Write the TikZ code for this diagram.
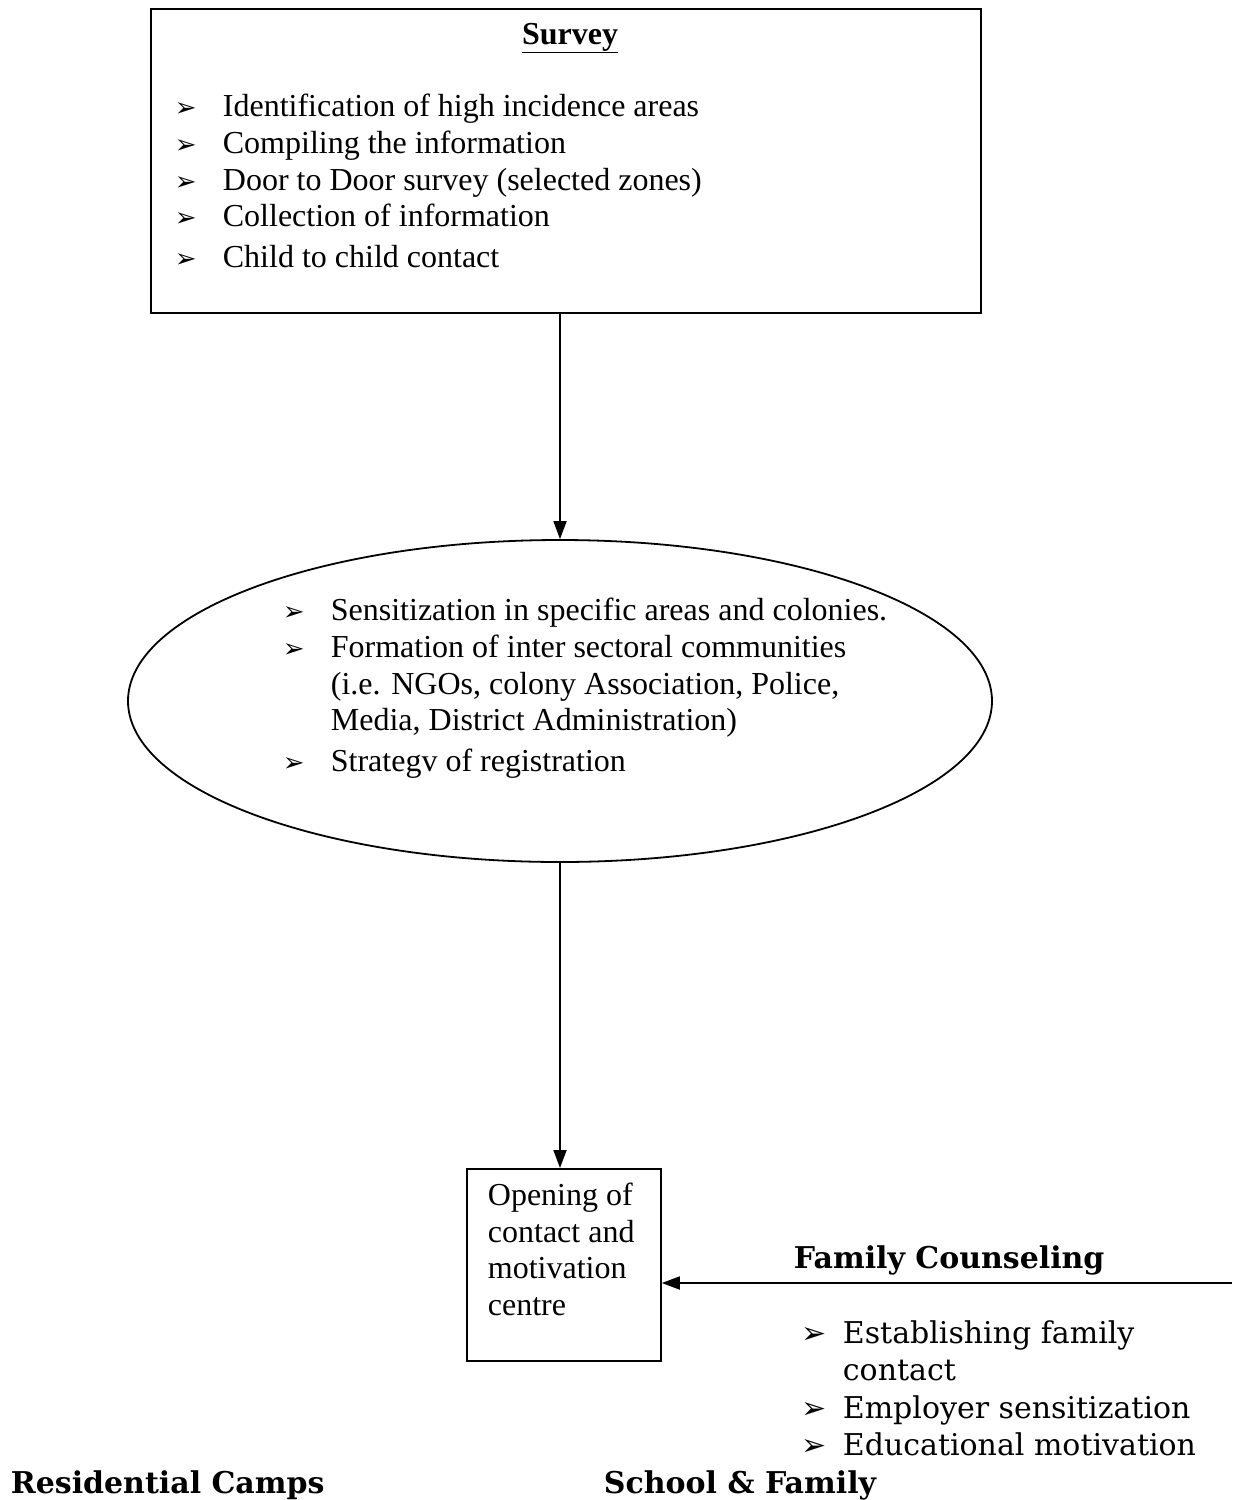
\documentclass[tikz,border=0pt]{standalone}
\usepackage{fontspec}
\setmainfont{Liberation Serif}
\newfontfamily\bookfont{DejaVu Serif}
\newfontfamily\bulfont{DejaVu Sans}
\usetikzlibrary{shapes.geometric,arrows.meta}
\newcommand{\arrbul}[2][26]{\makebox[#2][l]{{\bulfont\fontsize{#1}{#1}\selectfont ➢}}}
\begin{document}
\begin{tikzpicture}[x=1pt,y=-1pt,line width=1.8pt,
  txt/.style={anchor=base west,inner sep=0pt,font=\fontsize{32}{37}\selectfont},
  btxt/.style={anchor=base west,inner sep=0pt,font=\bookfont\fontsize{30}{37}\selectfont},
  hd/.style={anchor=base west,inner sep=0pt,font=\bookfont\bfseries\fontsize{30}{37}\selectfont},
  arr/.style={-{Triangle[length=18pt,width=13pt]}}]
	\useasboundingbox (0,0) rectangle (1239,1500);
	%Survey box
	\node [draw,anchor=north west,minimum width=830,minimum height=304,inner sep=0pt] (survey) at (150,8) {};
	\node [txt,anchor=base] (stitle) at (570,44) {\textbf{\underline{Survey}}};
	\node [txt] (s1) at (174,116) {\arrbul{48pt}Identification of high incidence areas};
	\node [txt] (s2) at (174,153) {\arrbul{48pt}Compiling the information};
	\node [txt] (s3) at (174,190) {\arrbul{48pt}Door to Door survey (selected zones)};
	\node [txt] (s4) at (174,226) {\arrbul{48pt}Collection of information};
	\node [txt] (s5) at (174,267) {\arrbul{48pt}Child to child contact};
	%Ellipse
	\node [draw,ellipse,minimum width=864,minimum height=322,inner sep=0pt] (sens) at (560,701) {};
	\node [txt] (e1) at (282,620) {\arrbul{48pt}Sensitization in specific areas and colonies.};
	\node [txt] (e2) at (282,657) {\arrbul{48pt}Formation of inter sectoral communities};
	\node [txt] (e3) at (330,694) {(i.e. NGOs, colony Association, Police,};
	\node [txt] (e4) at (330,730) {Media, District Administration)};
	\node [txt] (e5) at (282,771) {\arrbul{48pt}Strategv of registration};
	%Centre box
	\node [draw,anchor=north west,minimum width=194,minimum height=192,inner sep=0pt] (centre) at (466,1168) {};
	\node [txt] (c1) at (487,1205) {Opening of};
	\node [txt] (c2) at (487,1242) {contact and};
	\node [txt] (c3) at (487,1278) {motivation};
	\node [txt] (c4) at (487,1315) {centre};
	%Family counseling
	\coordinate (famend) at (1232,1283);
	\node [hd] (fam) at (793,1268) {Family Counseling};
	\node [btxt] (f1) at (801,1343) {\arrbul[30]{41pt}Establishing family};
	\node [btxt] (f2) at (842,1380) {contact};
	\node [btxt] (f3) at (801,1418) {\arrbul[30]{41pt}Employer sensitization};
	\node [btxt] (f4) at (801,1455) {\arrbul[30]{41pt}Educational motivation};
	%Bottom headings
	\node [hd] (camps) at (10,1493) {Residential Camps};
	\node [hd] (school) at (603,1493) {School \& Family};
	%Arrows
	\draw [arr] (survey.south -| sens.north) -- (sens.north);
	\draw [arr] (sens.south) -- (sens.south |- centre.north);
	\draw [arr] (famend) -- (centre.east |- famend);
\end{tikzpicture}
\end{document}
